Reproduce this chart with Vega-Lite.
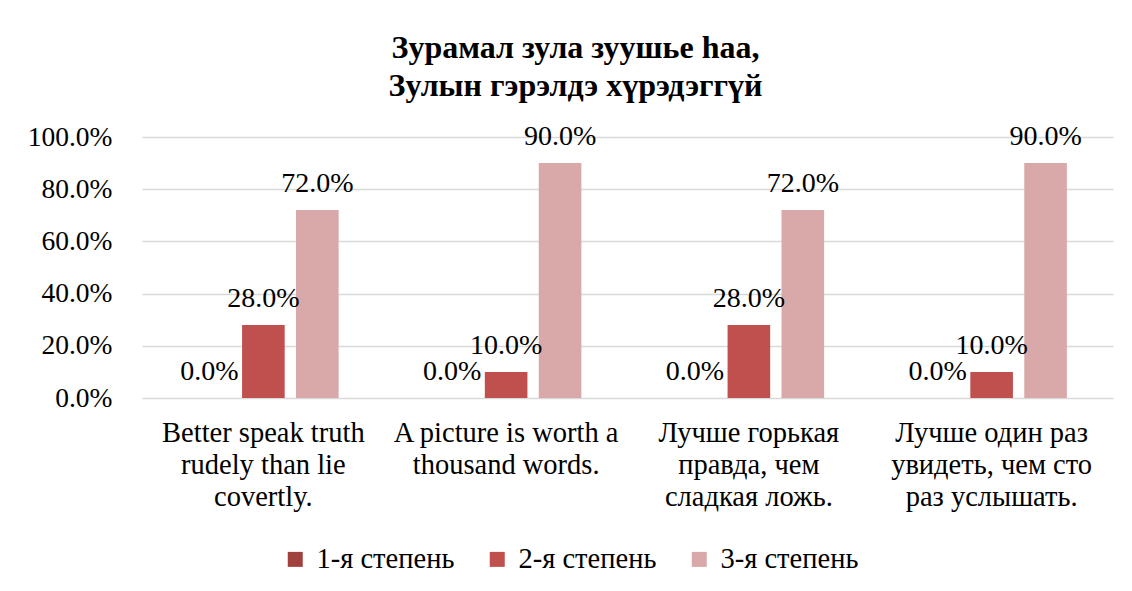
{
  "$schema": "https://vega.github.io/schema/vega-lite/v6.json",
  "width": 971,
  "height": 261,
  "autosize": {"type": "none"},
  "padding": {"left": 142, "top": 137, "right": 19, "bottom": 193},
  "background": "white",
  "title": {
    "text": ["Зурамал зула зуушье һаа,", "Зулын гэрэлдэ хүрэдэггүй"],
    "font": "Liberation Serif",
    "fontSize": 32,
    "fontWeight": "bold",
    "color": "#000000",
    "anchor": "middle",
    "frame": "group",
    "dx": -52,
    "lineHeight": 38,
    "offset": 20
  },
  "data": {
    "values": [
      {"cat": "Better speak truth|rudely than lie|covertly.", "series": "1-я степень", "value": 0.0},
      {"cat": "Better speak truth|rudely than lie|covertly.", "series": "2-я степень", "value": 0.28},
      {"cat": "Better speak truth|rudely than lie|covertly.", "series": "3-я степень", "value": 0.72},
      {"cat": "A picture is worth a|thousand words.", "series": "1-я степень", "value": 0.0},
      {"cat": "A picture is worth a|thousand words.", "series": "2-я степень", "value": 0.10},
      {"cat": "A picture is worth a|thousand words.", "series": "3-я степень", "value": 0.90},
      {"cat": "Лучше горькая|правда, чем|сладкая ложь.", "series": "1-я степень", "value": 0.0},
      {"cat": "Лучше горькая|правда, чем|сладкая ложь.", "series": "2-я степень", "value": 0.28},
      {"cat": "Лучше горькая|правда, чем|сладкая ложь.", "series": "3-я степень", "value": 0.72},
      {"cat": "Лучше один раз|увидеть, чем сто|раз услышать.", "series": "1-я степень", "value": 0.0},
      {"cat": "Лучше один раз|увидеть, чем сто|раз услышать.", "series": "2-я степень", "value": 0.10},
      {"cat": "Лучше один раз|увидеть, чем сто|раз услышать.", "series": "3-я степень", "value": 0.90}
    ]
  },
  "encoding": {
    "x": {
      "field": "cat",
      "type": "nominal",
      "sort": null,
      "scale": {"paddingInner": 0.38, "paddingOuter": 0.19},
      "axis": {
        "title": null,
        "labelAngle": 0,
        "labelExpr": "split(datum.label, '|')",
        "labelFont": "Liberation Serif",
        "labelFontSize": 28.5,
        "labelColor": "#000000",
        "labelLineHeight": 32,
        "labelPadding": 20,
        "labelBaseline": "top",
        "labelLimit": 400,
        "ticks": false,
        "domain": false,
        "grid": false
      }
    },
    "xOffset": {
      "field": "series",
      "type": "nominal",
      "scale": {"paddingInner": 0.21, "paddingOuter": 0}
    },
    "y": {
      "field": "value",
      "type": "quantitative",
      "scale": {"domain": [0, 1], "nice": false},
      "axis": {
        "title": null,
        "format": ".1%",
        "values": [0, 0.2, 0.4, 0.6, 0.8, 1.0],
        "labelFont": "Liberation Serif",
        "labelFontSize": 27.5,
        "labelColor": "#000000",
        "labelPadding": 30,
        "ticks": false,
        "domain": false,
        "grid": true,
        "gridColor": "#d9d9d9",
        "gridWidth": 1.5
      }
    }
  },
  "layer": [
    {
      "mark": {"type": "bar"},
      "encoding": {
        "color": {
          "field": "series",
          "type": "nominal",
          "scale": {
            "domain": ["1-я степень", "2-я степень", "3-я степень"],
            "range": ["#A0413F", "#C0504D", "#D9A9A9"]
          },
          "legend": {
            "title": null,
            "orient": "none",
            "direction": "horizontal",
            "legendX": 139,
            "legendY": 408,
            "symbolType": "square",
            "symbolSize": 225,
            "symbolStrokeWidth": 0,
            "labelFont": "Liberation Serif",
            "labelFontSize": 28.5,
            "labelColor": "#000000",
            "labelOffset": 7,
            "labelLimit": 300,
            "columnPadding": 28
          }
        }
      }
    },
    {
      "mark": {
        "type": "text",
        "baseline": "alphabetic",
        "dy": -18,
        "font": "Liberation Serif",
        "fontSize": 28,
        "color": "#000000"
      },
      "encoding": {
        "text": {"field": "value", "type": "quantitative", "format": ".1%"}
      }
    }
  ],
  "config": {
    "view": {"stroke": null}
  }
}
